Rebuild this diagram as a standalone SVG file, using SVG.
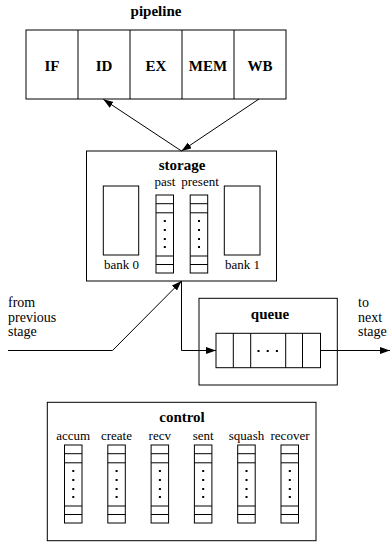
<svg xmlns="http://www.w3.org/2000/svg" width="391" height="542" viewBox="0 0 391 542">
<style>
text{font-family:"Liberation Serif","DejaVu Serif","Noto Serif",serif}
.box{fill:#fff;stroke:#000;stroke-width:1}
.ln{fill:none;stroke:#000;stroke-width:1}
.b{font-weight:bold;font-size:15px;text-anchor:middle}
.t{font-size:13px;text-anchor:middle}
.w{font-size:14px}
.dot{fill:#000}
</style>
<defs>
<marker id="ah" markerUnits="userSpaceOnUse" markerWidth="11" markerHeight="8" refX="10" refY="3.5" orient="auto">
<path d="M0,0 L10,3.5 L0,7 z" fill="#000"/>
</marker>
<g id="col">
<rect class="box" x="0" y="0" width="17.5" height="78"/>
<line class="ln" x1="0" y1="8.7" x2="17.5" y2="8.7"/>
<line class="ln" x1="0" y1="17.8" x2="17.5" y2="17.8"/>
<line class="ln" x1="0" y1="61" x2="17.5" y2="61"/>
<line class="ln" x1="0" y1="69.5" x2="17.5" y2="69.5"/>
<rect class="dot" x="7.8" y="25" width="2" height="2"/>
<rect class="dot" x="7.8" y="34" width="2" height="2"/>
<rect class="dot" x="7.8" y="43" width="2" height="2"/>
<rect class="dot" x="7.8" y="51" width="2" height="2"/>
</g>
</defs>

<g id="pipeline">
<text class="b" x="156" y="16">pipeline</text>
<rect class="box" x="26" y="30" width="260" height="69"/>
<line class="ln" x1="78" y1="30" x2="78" y2="99"/>
<line class="ln" x1="130" y1="30" x2="130" y2="99"/>
<line class="ln" x1="182" y1="30" x2="182" y2="99"/>
<line class="ln" x1="234" y1="30" x2="234" y2="99"/>
<text class="b" x="52" y="71">IF</text>
<text class="b" x="104" y="71">ID</text>
<text class="b" x="156" y="71">EX</text>
<text class="b" x="208" y="71">MEM</text>
<text class="b" x="260" y="71">WB</text>
</g>

<g id="storage">
<rect class="box" x="86.5" y="151" width="190" height="130"/>
<text class="b" x="182" y="170">storage</text>
<text class="t" x="165" y="186">past</text>
<text class="t" x="200" y="186">present</text>
<rect class="box" x="103.3" y="186" width="35.4" height="69"/>
<rect class="box" x="224.3" y="186" width="35.7" height="69"/>
<text class="t" x="121.5" y="268.5">bank 0</text>
<text class="t" x="242.5" y="268.5">bank 1</text>
<use href="#col" x="156" y="195"/>
<use href="#col" x="190.2" y="195"/>
</g>

<g id="queue">
<rect class="box" x="199" y="298.3" width="138.3" height="86.7"/>
<text class="b" x="270" y="319">queue</text>
<rect class="box" x="216" y="333.3" width="104.5" height="34.4"/>
<line class="ln" x1="233.3" y1="333.3" x2="233.3" y2="367.7"/>
<line class="ln" x1="250.7" y1="333.3" x2="250.7" y2="367.7"/>
<line class="ln" x1="285.7" y1="333.3" x2="285.7" y2="367.7"/>
<line class="ln" x1="302.5" y1="333.3" x2="302.5" y2="367.7"/>
<rect class="dot" x="257.5" y="350" width="2" height="2"/>
<rect class="dot" x="266.7" y="350" width="2" height="2"/>
<rect class="dot" x="275.9" y="350" width="2" height="2"/>
</g>

<g id="control">
<rect class="box" x="47.3" y="402.3" width="268.7" height="138.4"/>
<text class="b" x="182" y="421.7">control</text>
<text class="t" x="73.2" y="440">accum</text>
<text class="t" x="116.5" y="440">create</text>
<text class="t" x="159.8" y="440">recv</text>
<text class="t" x="203.2" y="440">sent</text>
<text class="t" x="246.5" y="440">squash</text>
<text class="t" x="290" y="440">recover</text>
<use href="#col" x="64.5" y="445"/>
<use href="#col" x="107.8" y="445"/>
<use href="#col" x="151.1" y="445"/>
<use href="#col" x="194.4" y="445"/>
<use href="#col" x="237.7" y="445"/>
<use href="#col" x="281" y="445"/>
</g>

<g id="labels">
<text class="w" x="8" y="307">from</text>
<text class="w" x="8" y="321.5">previous</text>
<text class="w" x="8" y="336">stage</text>
<text class="w" x="358" y="307">to</text>
<text class="w" x="358" y="321.5">next</text>
<text class="w" x="358" y="336">stage</text>
</g>

<g id="connectors">
<line class="ln" x1="181.5" y1="151" x2="103.3" y2="99.3" marker-end="url(#ah)"/>
<line class="ln" x1="259" y1="99" x2="181.5" y2="151" marker-end="url(#ah)"/>
<polyline class="ln" points="8,350.5 112.5,350.5 181.5,281" marker-end="url(#ah)"/>
<polyline class="ln" points="181.5,281 181.5,350.5 216,350.5" marker-end="url(#ah)"/>
<line class="ln" x1="320.5" y1="350.5" x2="390" y2="350.5" marker-end="url(#ah)"/>
</g>
</svg>
